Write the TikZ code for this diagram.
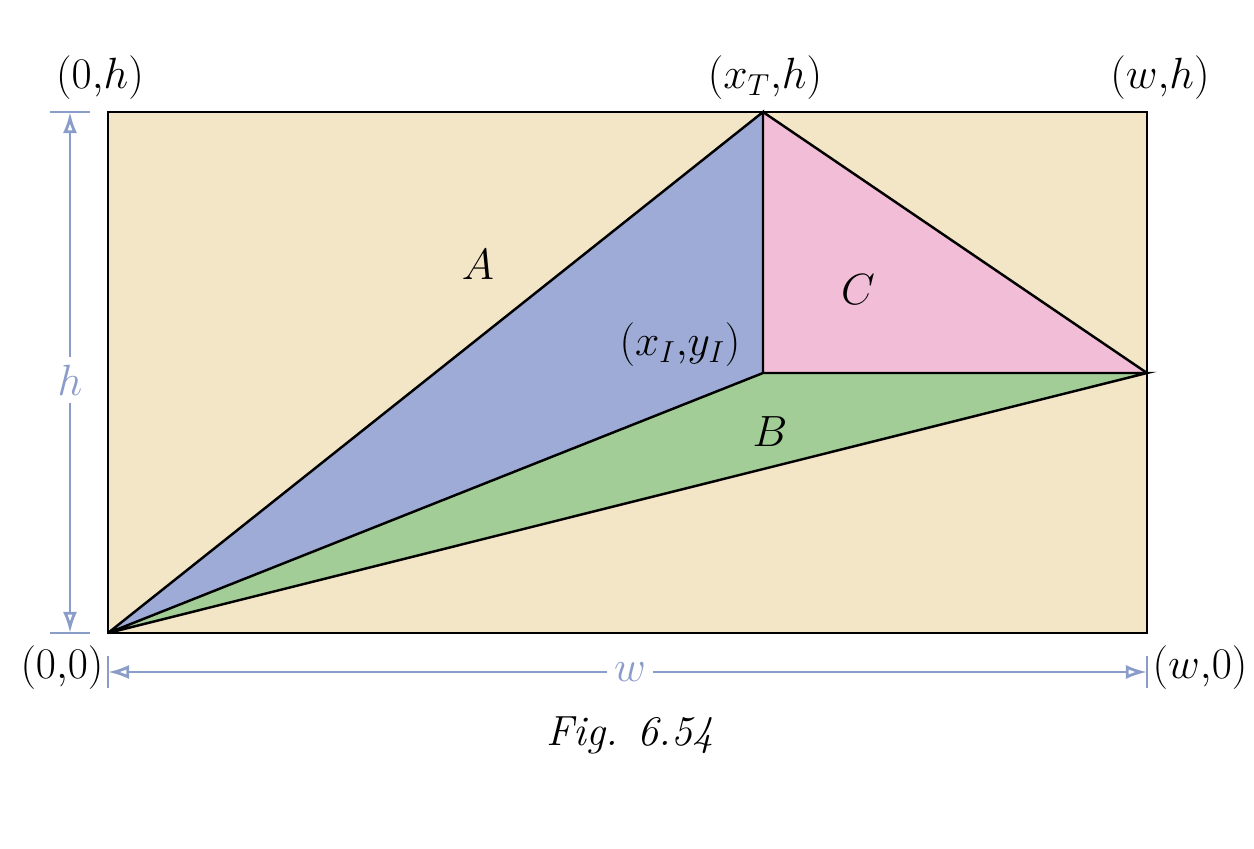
\documentclass[tikz,border=0pt]{standalone}
\usetikzlibrary{arrows.meta}
\definecolor{tan}{HTML}{F2E6C6}
\definecolor{regA}{HTML}{9DABD6}
\definecolor{regB}{HTML}{A3CD96}
\definecolor{regC}{HTML}{F2BDD6}
\definecolor{dim}{HTML}{8A9CC8}
\tikzset{
  lbl/.style={font=\fontsize{24}{28}\selectfont, inner sep=0pt},
  dimline/.style={dim, line width=1.6pt},
  dimarrow/.style={dimline, {Latex[length=12pt,width=8pt,open]}-{Latex[length=12pt,width=8pt,open]}},
}
\begin{document}
\begin{tikzpicture}
	\useasboundingbox (0,0) rectangle (25.08,16.96);
	% Define corners
	\coordinate (O) at (2.16,4.3);
	\coordinate (W) at (22.94,4.3);
	\coordinate (WH) at (22.94,14.72);
	\coordinate (H) at (2.16,14.72);
	\coordinate (T) at (15.26,14.72);
	\coordinate (I) at (15.26,9.5);
	\coordinate (R) at (22.94,9.5);
	
	% Regions
	\fill[tan] (O) rectangle (WH);
	\fill[regA] (O) -- (T) -- (I) -- cycle;
	\fill[regC] (T) -- (R) -- (I) -- cycle;
	\fill[regB] (O) -- (I) -- (R) -- cycle;
	\draw[line width=1.4pt] (O) rectangle (WH);
	\draw[line width=1.4pt] (O) -- (T) -- (I) -- (O) -- (R) -- (I);
	\draw[line width=1.4pt] (T) -- (R);
	
	% Dimensions
	\coordinate (hb) at (1.4,4.3);
	\coordinate (ht) at (1.4,14.72);
	\draw[dimline] (1.0,14.72) -- (1.8,14.72);
	\draw[dimline] (1.0,4.3) -- (1.8,4.3);
	\node[lbl, text=dim, fill=white, inner sep=4pt, font=\fontsize{26}{30}\selectfont] (hl) at (1.4,9.36) {$h$};
	\draw[dimarrow, -{Latex[length=12pt,width=8pt,open]}] (hl) -- (ht);
	\draw[dimarrow, -{Latex[length=12pt,width=8pt,open]}] (hl) -- (hb);
	\coordinate (wl0) at (2.16,3.52);
	\coordinate (wr0) at (22.94,3.52);
	\draw[dimline] (2.16,3.2) -- (2.16,3.85);
	\draw[dimline] (22.94,3.2) -- (22.94,3.85);
	\node[lbl, text=dim, fill=white, inner sep=4pt, font=\fontsize{26}{30}\selectfont] (wl) at (12.6,3.52) {$w$};
	\draw[dimarrow, -{Latex[length=12pt,width=8pt,open]}] (wl) -- (wl0);
	\draw[dimarrow, -{Latex[length=12pt,width=8pt,open]}] (wl) -- (wr0);
	
	% Labels
	\node[lbl] (lh) at (2.0,15.4) {$(0{,}h)$};
	\node[lbl] (lt) at (15.3,15.4) {$(x_T{,}h)$};
	\node[lbl] (lwh) at (23.2,15.4) {$(w{,}h)$};
	\node[lbl] (lo) at (1.24,3.6) {$(0{,}0)$};
	\node[lbl] (lw) at (24.0,3.6) {$(w{,}0)$};
	\node[lbl] (la) at (9.56,11.66) {$A$};
	\node[lbl] (lc) at (17.16,11.16) {$C$};
	\node[lbl] (li) at (13.6,10.06) {$(x_I{,}y_I)$};
	\node[lbl] (lb) at (15.4,8.32) {$B$};
	\node[lbl] (fig) at (12.6,2.26) {\itshape Fig. 6.54};
\end{tikzpicture}
\end{document}
